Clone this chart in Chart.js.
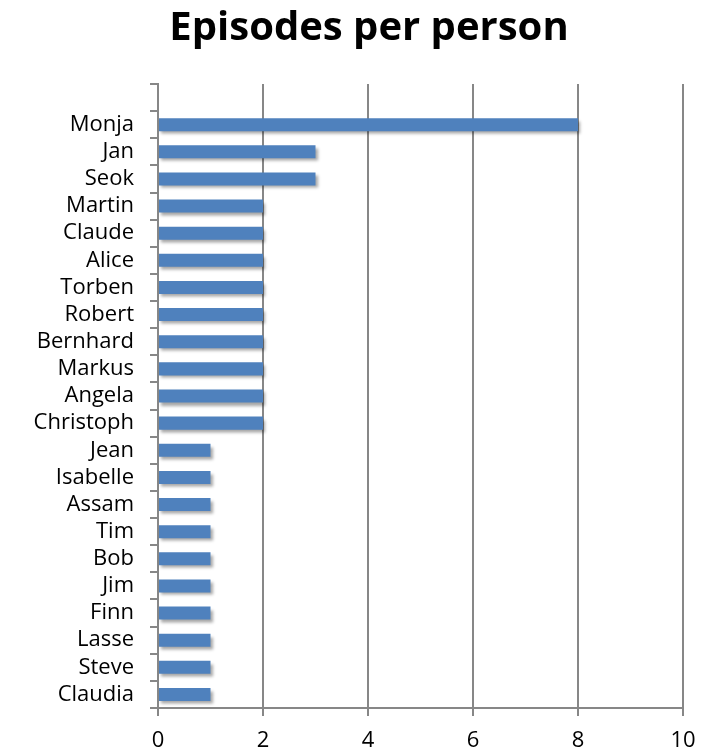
<!DOCTYPE html>
<html lang="en">
<head>
    <meta charset="UTF-8">
    <title>Episodes per person</title>
    <style>
        html, body {
            margin: 0;
            padding: 0;
            background: #ffffff;
        }
        .wrap {
            width: 708px;
            height: 754px;
        }
    </style>
    <script src="https://cdn.jsdelivr.net/npm/chart.js"></script>
</head>
<body>
<div class="wrap">
    <canvas id="barChart" width="708" height="754"></canvas>
</div>

<script>
    // first label left blank: the reference has one empty row above Monja
    const people = ['', 'Monja', 'Jan', 'Seok', 'Martin', 'Claude', 'Alice', 'Torben', 'Robert',
        'Bernhard', 'Markus', 'Angela', 'Christoph', 'Jean', 'Isabelle', 'Assam', 'Tim',
        'Bob', 'Jim', 'Finn', 'Lasse', 'Steve', 'Claudia'];
    const episodes = [null, 8, 3, 3, 2, 2, 2, 2, 2, 2, 2, 2, 2, 1, 1, 1, 1, 1, 1, 1, 1, 1, 1];
    const xTicks = [0, 2, 4, 6, 8, 10];
    const chartTitle = 'Episodes per person';

    const gridGray = '#878787';
    const fontFam = "'Open Sans', 'Liberation Sans', sans-serif";

    // soft drop shadow under the bars, like the office chart
    const barShadow = {
        id: 'barShadow',
        beforeDatasetsDraw(chart) {
            const c = chart.ctx;
            c.save();
            c.shadowColor = 'rgba(0,0,0,0.35)';
            c.shadowBlur = 3;
            c.shadowOffsetX = 2;
            c.shadowOffsetY = 3;
        },
        afterDatasetsDraw(chart) {
            chart.ctx.restore();
        }
    };

    // title is not centred on the canvas in the reference, so draw it here
    const offsetTitle = {
        id: 'offsetTitle',
        afterDraw(chart) {
            const c = chart.ctx;
            c.save();
            c.font = 'bold 40px ' + fontFam;
            c.fillStyle = '#000000';
            c.textAlign = 'center';
            c.textBaseline = 'middle';
            c.fillText(chartTitle, 369, 29);
            c.restore();
        }
    };

    new Chart(document.getElementById('barChart').getContext('2d'), {
        type: 'bar',
        data: {
            labels: people,
            datasets: [{
                data: episodes,
                backgroundColor: '#4F81BD',
                categoryPercentage: 1,
                barPercentage: 0.48
            }]
        },
        plugins: [barShadow, offsetTitle],
        options: {
            indexAxis: 'y',
            responsive: false,
            animation: false,
            layout: {
                padding: { left: 0, right: 25, top: 84, bottom: 0 }
            },
            plugins: {
                legend: { display: false },
                tooltip: { enabled: false },
                title: { display: false }
            },
            scales: {
                x: {
                    min: 0,
                    max: 10,
                    afterBuildTicks(scale) {
                        scale.ticks = xTicks.map(v => ({ value: v }));
                    },
                    afterFit(scale) {
                        scale.height = 46;
                    },
                    grid: {
                        color: gridGray,
                        lineWidth: 2,
                        tickLength: 8,
                        drawTicks: true
                    },
                    border: { color: gridGray, width: 2 },
                    ticks: {
                        color: '#000000',
                        font: { family: fontFam, size: 22 },
                        padding: 12
                    }
                },
                y: {
                    afterFit(scale) {
                        scale.width = 158;
                    },
                    grid: {
                        drawOnChartArea: false,
                        color: gridGray,
                        lineWidth: 2,
                        tickLength: 8,
                        offset: true
                    },
                    border: { color: gridGray, width: 2 },
                    ticks: {
                        color: '#000000',
                        font: { family: fontFam, size: 22 },
                        padding: 16,
                        autoSkip: false
                    }
                }
            }
        }
    });
</script>
</body>
</html>
